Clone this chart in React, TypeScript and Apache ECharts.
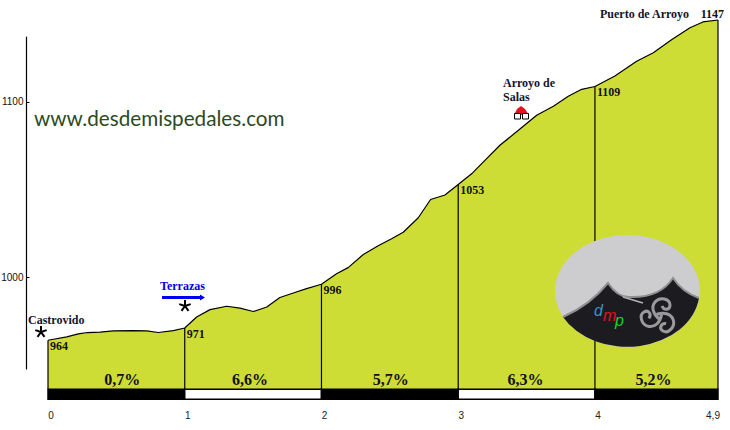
import React, { useEffect, useRef } from "react";
import * as echarts from "echarts";

const profile: number[][] = [
  [0, 964], [0.137, 965.9], [0.222, 967.6], [0.288, 968.4], [0.38, 968.6], [0.478, 969.3],
  [0.624, 969.5], [0.722, 969.3], [0.807, 968.4], [0.916, 969.5], [1, 971], [1.087, 977.3],
  [1.185, 981.5], [1.307, 983.4], [1.404, 982.3], [1.501, 980.4], [1.6, 983], [1.696, 988.4],
  [1.794, 991], [1.891, 993.5], [2, 996], [2.11, 1002], [2.195, 1005.5], [2.306, 1013],
  [2.415, 1018], [2.513, 1022], [2.598, 1025.7], [2.708, 1034], [2.798, 1044.4], [2.903, 1047],
  [3, 1053], [3.105, 1059.6], [3.208, 1067.8], [3.305, 1075.4], [3.447, 1084.4], [3.574, 1092.6],
  [3.696, 1097.7], [3.805, 1103.4], [3.903, 1107.4], [4, 1109], [4.146, 1115], [4.305, 1123.4],
  [4.427, 1128.3], [4.56, 1135.7], [4.695, 1142.6], [4.79, 1145.9], [4.9, 1147],
];
const markers: number[][] = [[0, 964], [1, 971], [2, 996], [3, 1053], [4, 1109], [4.9, 1147]];
const kmTicks = [0, 1, 2, 3, 4, 4.9];
const elevationTicks = [1000, 1100];
const segmentStart = [0, 1, 2, 3, 4];
const segmentEnd = [1, 2, 3, 4, 4.9];
const gradients = ["0,7%", "6,6%", "5,7%", "6,3%", "5,2%"];

const BASE = 936;
const SERIF = '"Liberation Serif", serif';
const SANS = '"Liberation Sans", sans-serif';
const FILL = "#cedd36";
const gradientShift = [6, -3, 1, -1, -3];

const dark = "M563 317 Q590 305 608 283 Q618 298 630 297 Q660 298 673 278 Q682 292 699 298 A72.5 56 0 0 1 563 317 Z";
const ridge = "M563 317 Q590 305 608 283 Q618 298 630 297 Q660 298 673 278 Q682 292 699 298";
const spiral = "M0 3 C-6 -2 -8 -9 -4 -14 C1 -20 11 -17 11 -11 C11 -6 5 -5 3 -10";
const star = "M0 0L0 -6 M0 0L5.7 -1.9 M0 0L3.5 4.9 M0 0L-3.5 4.9 M0 0L-5.7 -1.9";
echarts.graphic.registerShape("dmpDark", echarts.graphic.extendPath(dark, {}));
echarts.graphic.registerShape("dmpRidge", echarts.graphic.extendPath(ridge, {}));
echarts.graphic.registerShape("dmpSpiral", echarts.graphic.extendPath(spiral, {}));
echarts.graphic.registerShape("starMark", echarts.graphic.extendPath(star, {}));

const label = (text: string, x: number, y: number, fill = "#14142e", font = `bold 12px ${SERIF}`) => ({
  type: "text", x, y, z: 20,
  style: { text, fill, font, textAlign: "left", textVerticalAlign: "middle" },
});

export default function App() {
  const ref = useRef<HTMLDivElement>(null);
  useEffect(() => {
    const chart = echarts.init(ref.current!, undefined, { renderer: "svg" });
    chart.setOption({
      animation: false,
      backgroundColor: "#ffffff",
      grid: [
        { left: 48, top: 20, width: 670, height: 379.2, outerBoundsMode: "none" },
        { left: 26.5, top: 37, width: 10, height: 332, outerBoundsMode: "none" },
      ],
      xAxis: [
        {
          type: "value", gridIndex: 0, min: 0, max: 4.9,
          axisLine: { show: false }, axisTick: { show: false }, splitLine: { show: false },
          axisLabel: {
            customValues: kmTicks, margin: 11, color: "#222", fontFamily: SANS, fontSize: 10,
            formatter: (v: number) => (v === 4.9 ? "{b|4,9}" : `{a|${v}}`),
            rich: {
              a: { padding: [0, 0, 0, 6], fontFamily: SANS, fontSize: 10, color: "#222" },
              b: { padding: [0, 10, 0, 0], fontFamily: SANS, fontSize: 10, color: "#222" },
            },
          },
        },
        { type: "value", gridIndex: 1, show: false, min: 0, max: 1 },
      ],
      yAxis: [
        { type: "value", gridIndex: 0, show: false, min: 930.3, max: 1147 },
        {
          type: "value", gridIndex: 1, position: "left", min: 947.43, max: 1137.14,
          axisLine: { show: true, onZero: false, lineStyle: { color: "#000", width: 1.2 } },
          axisTick: { show: true, inside: true, length: 3, customValues: elevationTicks, lineStyle: { color: "#000" } },
          axisLabel: { customValues: elevationTicks, margin: 3, color: "#111", fontFamily: SANS, fontSize: 10, formatter: (v: number) => String(v) },
          splitLine: { show: false },
        },
      ],
      series: [
        {
          type: "line", data: profile, showSymbol: false, smooth: false, clip: false,
          lineStyle: { color: "#000", width: 1.2 },
          areaStyle: { color: FILL, opacity: 1, origin: BASE },
          z: 2,
        },
        {
          type: "custom", data: markers, clip: false, z: 4,
          renderItem: (_p: any, api: any) => {
            const km = api.value(0), elev = api.value(1);
            const top = api.coord([km, elev]);
            const bottom = api.coord([km, BASE]);
            const last = km === 4.9;
            return {
              type: "group",
              children: [
                { type: "line", shape: { x1: top[0], y1: top[1], x2: bottom[0], y2: bottom[1] }, style: { stroke: "#000", lineWidth: 1.2 } },
                {
                  type: "text",
                  x: last ? top[0] + 6 : top[0] + 2,
                  y: last ? top[1] - 6 : top[1] + 6,
                  style: { text: String(elev), fill: "#111", font: `bold 12px ${SERIF}`, textAlign: last ? "right" : "left", textVerticalAlign: "middle" },
                },
              ],
            };
          },
        },
        {
          type: "custom", clip: false, z: 5,
          data: segmentStart.map((s, i) => [s, segmentEnd[i], i]),
          encode: { x: [0, 1] },
          renderItem: (_p: any, api: any) => {
            const i = api.value(2);
            const a = api.coord([api.value(0), BASE]);
            const b = api.coord([api.value(1), 930.3]);
            const odd = i % 2 === 1;
            return {
              type: "group",
              children: [
                {
                  type: "rect",
                  shape: { x: a[0], y: a[1], width: b[0] - a[0], height: b[1] - a[1] },
                  style: { fill: odd ? "#fff" : "#000", stroke: "#000", lineWidth: 1.5 },
                },
                {
                  type: "text",
                  x: (a[0] + b[0]) / 2 + gradientShift[i],
                  y: a[1] - 10,
                  style: { text: gradients[i], fill: "#111", font: `bold 16px ${SERIF}`, textAlign: "center", textVerticalAlign: "middle" },
                },
              ],
            };
          },
        },
      ],
      graphic: [
        { type: "ellipse", z: 10, shape: { cx: 627.5, cy: 291, rx: 72.5, ry: 56 }, style: { fill: "#cdcdcf" } },
        { type: "dmpDark", z: 11, x: 0, y: 0, style: { fill: "#1c1c20" } },
        { type: "dmpRidge", z: 12, x: 0, y: 0, style: { fill: "none", stroke: "#8f8f92", lineWidth: 2 } },
        { type: "line", z: 12, shape: { x1: 623, y1: 297, x2: 643, y2: 303 }, style: { stroke: "#b5b5b8", lineWidth: 1.5 } },
        ...[0, 1, 2].map((i) => ({
          type: "dmpSpiral", z: 12, x: 659, y: 316, rotation: (-i * 2 * Math.PI) / 3,
          style: { fill: "none", stroke: "#9a9a9c", lineWidth: 3 },
        })),
        label("d", 594, 310, "#3e8fc4", `italic 16px ${SANS}`),
        label("m", 603, 315, "#e8101a", `italic 16px ${SANS}`),
        label("p", 615, 320, "#12d42a", `italic 16px ${SANS}`),

        label("www.desdemispedales.com", 34, 118, "#2c4a1f", '20.7px "Lato", sans-serif'),
        label("Castrovido", 28, 320),
        label("Terrazas", 160, 286, "#0000e6"),
        label("Arroyo de", 503, 83),
        label("Salas", 503, 97),
        label("Puerto de Arroyo", 600, 14),
        { type: "starMark", z: 20, x: 41, y: 332, style: { fill: "none", stroke: "#000", lineWidth: 2 } },
        { type: "starMark", z: 20, x: 185, y: 306, style: { fill: "none", stroke: "#000", lineWidth: 2 } },
        { type: "rect", z: 20, shape: { x: 162, y: 296, width: 39, height: 3 }, style: { fill: "#0000f0" } },
        { type: "polygon", z: 20, shape: { points: [[200, 294.5], [205, 297.5], [200, 300.5]] }, style: { fill: "#0000f0" } },
        { type: "polygon", z: 20, shape: { points: [[514, 115], [517, 109], [521, 106], [525, 109], [529, 115]] }, style: { fill: "#e0141c" } },
        { type: "rect", z: 21, shape: { x: 514.5, y: 113.5, width: 6, height: 5.5 }, style: { fill: "#fff", stroke: "#000", lineWidth: 1 } },
        { type: "rect", z: 21, shape: { x: 522.5, y: 113.5, width: 6, height: 5.5 }, style: { fill: "#fff", stroke: "#000", lineWidth: 1 } },
      ],
    });
    return () => chart.dispose();
  }, []);
  return <div ref={ref} style={{ position: "fixed", left: 0, top: 0, width: 730, height: 430 }} />;
}
